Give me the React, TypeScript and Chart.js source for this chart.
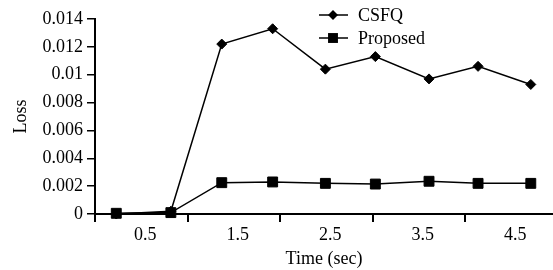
import React, { useEffect, useRef } from "react";
import { Chart, registerables } from "chart.js";

Chart.register(...registerables);

const timeValues = [0.23, 0.82, 1.37, 1.92, 2.49, 3.03, 3.61, 4.14, 4.71];
const csfqLoss = [0.0, 0.0002, 0.0122, 0.0133, 0.0104, 0.0113, 0.0097, 0.0106, 0.0093];
const proposedLoss = [0.00005, 0.0001, 0.00225, 0.0023, 0.0022, 0.00215, 0.00235, 0.0022, 0.0022];
const seriesNames = ["CSFQ", "Proposed"];
const yTicks = [0, 0.002, 0.004, 0.006, 0.008, 0.01, 0.012, 0.014];
const xTicks = [0, 0.5, 1, 1.5, 2, 2.5, 3, 3.5, 4, 4.5];

const FONT = "'Liberation Serif', 'Times New Roman', serif";

function drawMarker(ctx: CanvasRenderingContext2D, style: string, r: number, x: number, y: number) {
  ctx.beginPath();
  if (style === "rectRot") {
    ctx.moveTo(x - r, y);
    ctx.lineTo(x, y - r);
    ctx.lineTo(x + r, y);
    ctx.lineTo(x, y + r);
    ctx.closePath();
  } else {
    const s = Math.SQRT1_2 * r;
    ctx.rect(x - s, y - s, 2 * s, 2 * s);
  }
  ctx.fill();
}

const legendPlugin = {
  id: "lineLegend",
  afterDraw(chart: any) {
    const ctx = chart.ctx;
    const items = [
      { label: seriesNames[0], style: "rectRot", radius: 5, y: 15 },
      { label: seriesNames[1], style: "rect", radius: 7, y: 38 },
    ];
    ctx.save();
    items.forEach((it) => {
      ctx.strokeStyle = "#000";
      ctx.lineWidth = 1.5;
      ctx.beginPath();
      ctx.moveTo(319, it.y);
      ctx.lineTo(348, it.y);
      ctx.stroke();
      ctx.fillStyle = "#000";
      drawMarker(ctx, it.style, it.radius, 333, it.y);
      ctx.font = `18px ${FONT}`;
      ctx.textAlign = "left";
      ctx.textBaseline = "middle";
      ctx.fillText(it.label, 358, it.y + 1);
    });
    ctx.restore();
  },
};

export default function App() {
  const ref = useRef<HTMLCanvasElement | null>(null);
  useEffect(() => {
    if (!ref.current) return;
    const chart = new Chart(ref.current, {
      type: "line",
      data: {
        datasets: [
          {
            label: seriesNames[0],
            data: timeValues.map((t, i) => ({ x: t, y: csfqLoss[i] })),
            borderColor: "#000",
            backgroundColor: "#000",
            borderWidth: 1.5,
            pointStyle: "rectRot",
            pointRadius: 5,
            pointBorderWidth: 1,
            tension: 0,
            clip: false,
          },
          {
            label: seriesNames[1],
            data: timeValues.map((t, i) => ({ x: t, y: proposedLoss[i] })),
            borderColor: "#000",
            backgroundColor: "#000",
            borderWidth: 1.5,
            pointStyle: "rect",
            pointRadius: 7,
            pointBorderWidth: 1,
            tension: 0,
            clip: false,
          },
        ],
      },
      options: {
        animation: false,
        responsive: false,
        maintainAspectRatio: false,
        layout: { autoPadding: false, padding: { top: 19, right: 0, left: 0, bottom: 0 } },
        plugins: { legend: { display: false }, tooltip: { enabled: false } },
        scales: {
          x: {
            type: "linear",
            bounds: "data",
            min: 0,
            max: 4.95,
            afterBuildTicks: (s: any) => {
              s.ticks = xTicks.map((v) => ({ value: v }));
            },
            afterFit: (s: any) => {
              s.height = 56;
              s.paddingRight = 0;
              s.paddingLeft = 0;
            },
            border: { color: "#000", width: 2 },
            grid: {
              drawOnChartArea: false,
              drawTicks: true,
              tickLength: 8,
              lineWidth: 2,
              color: (c: any) =>
                c.tick && Math.abs(c.tick.value - Math.round(c.tick.value)) < 1e-6 ? "#000" : "rgba(0,0,0,0)",
            },
            ticks: {
              autoSkip: false,
              maxRotation: 0,
              labelOffset: 4,
              color: "#000",
              padding: 2,
              font: { family: FONT, size: 18 },
              callback: (v: any) => {
                const n = Number(v);
                return Math.abs(n - Math.round(n)) > 1e-6 ? n.toFixed(1) : "";
              },
            },
            title: {
              display: true,
              text: "Time (sec)",
              color: "#000",
              font: { family: FONT, size: 18 },
              padding: { top: 0, bottom: 0 },
            },
          },
          y: {
            min: 0,
            max: 0.014,
            afterFit: (s: any) => {
              s.width = 95;
            },
            afterBuildTicks: (s: any) => {
              s.ticks = yTicks.map((v) => ({ value: v }));
            },
            border: { color: "#000", width: 2 },
            grid: {
              drawOnChartArea: false,
              drawTicks: true,
              tickLength: 8,
              lineWidth: 1.5,
              color: "#000",
            },
            ticks: {
              color: "#000",
              padding: 4,
              font: { family: FONT, size: 18 },
              callback: (v: any) => String(Number(Number(v).toFixed(3))),
            },
            title: {
              display: true,
              text: "Loss",
              color: "#000",
              font: { family: FONT, size: 18 },
              padding: { top: 10, bottom: 0 },
            },
          },
        },
      },
      plugins: [legendPlugin],
    } as any);
    return () => chart.destroy();
  }, []);
  return (
    <div style={{ position: "fixed", left: 0, top: 0, width: 553, height: 270, background: "#fff" }}>
      <canvas ref={ref} width={553} height={270} style={{ width: 553, height: 270 }} />
    </div>
  );
}
